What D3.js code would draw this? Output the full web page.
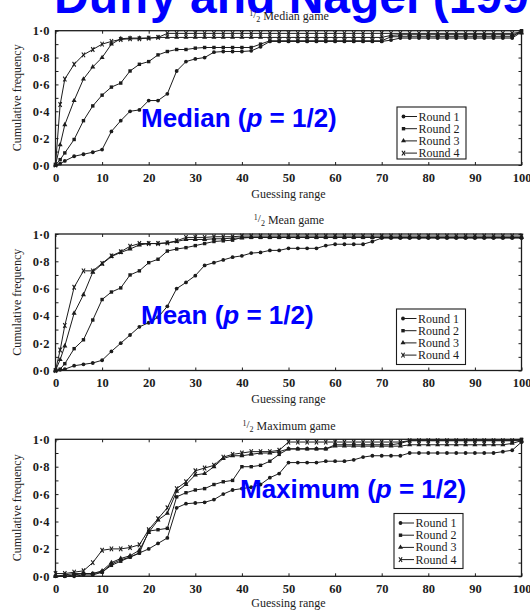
<!DOCTYPE html>
<html>
<head>
<meta charset="utf-8">
<script src="https://cdn.jsdelivr.net/npm/d3@7"></script>
<style>
  html, body { margin: 0; padding: 0; background: #fff; }
  svg { display: block; }
</style>
</head>
<body>
<div id="chart"></div>
<script>
// Guessing-range grid: fine start (step 1) then every 2 units
const xsFine = [0, 1, 2, 4, 6, 8, 10, 12, 14, 16, 18, 20, 22, 24, 26, 28, 30, 32, 34, 36, 38,
  40, 42, 44, 46, 48, 50, 52, 54, 56, 58, 60, 62, 64, 66, 68, 70, 72, 74, 76, 78,
  80, 82, 84, 86, 88, 90, 92, 94, 96, 98, 100];
const xsEven = [0, 2, 4, 6, 8, 10, 12, 14, 16, 18, 20, 22, 24, 26, 28, 30, 32, 34, 36, 38,
  40, 42, 44, 46, 48, 50, 52, 54, 56, 58, 60, 62, 64, 66, 68, 70, 72, 74, 76, 78,
  80, 82, 84, 86, 88, 90, 92, 94, 96, 98, 100];

const roundNames = ["Round 1", "Round 2", "Round 3", "Round 4"];
const yTickLabels = ["0·0", "0·2", "0·4", "0·6", "0·8", "1·0"];
const xTickValues = [0, 10, 20, 30, 40, 50, 60, 70, 80, 90, 100];

// 1/2 Median game — cumulative frequency (on xsFine)
const medianR1 = [0, 0.01, 0.03, 0.065, 0.08, 0.095,
  0.115, 0.25, 0.33, 0.40, 0.41,
  0.48, 0.48, 0.53, 0.70, 0.77,
  0.79, 0.80, 0.84, 0.845, 0.845,
  0.845, 0.85, 0.88, 0.92, 0.92,
  0.92, 0.92, 0.92, 0.92, 0.92,
  0.92, 0.92, 0.92, 0.92, 0.92,
  0.92, 0.93, 0.945, 0.945, 0.945,
  0.945, 0.945, 0.945, 0.945, 0.945,
  0.945, 0.945, 0.945, 0.945, 0.945,
  0.99];
const medianR2 = [0, 0.04, 0.09, 0.19, 0.33, 0.44,
  0.52, 0.58, 0.61, 0.70, 0.75,
  0.77, 0.82, 0.845, 0.86, 0.86,
  0.87, 0.875, 0.875, 0.875, 0.875,
  0.875, 0.875, 0.90, 0.925, 0.925,
  0.925, 0.925, 0.925, 0.925, 0.925,
  0.925, 0.925, 0.925, 0.925, 0.925,
  0.925, 0.955, 0.955, 0.955, 0.955,
  0.955, 0.955, 0.955, 0.955, 0.955,
  0.955, 0.955, 0.955, 0.955, 0.955,
  1.0];
const medianR3 = [0, 0.15, 0.30, 0.48, 0.64, 0.73,
  0.80, 0.90, 0.94, 0.945, 0.945,
  0.945, 0.95, 0.95, 0.95, 0.95,
  0.95, 0.95, 0.95, 0.95, 0.95,
  0.95, 0.95, 0.95, 0.95, 0.95,
  0.95, 0.95, 0.95, 0.95, 0.95,
  0.95, 0.95, 0.95, 0.95, 0.95,
  0.95, 0.965, 0.97, 0.97, 0.97,
  0.97, 0.97, 0.97, 0.97, 0.97,
  0.97, 0.97, 0.97, 0.97, 0.97,
  0.985];
const medianR4 = [0, 0.45, 0.64, 0.75, 0.82, 0.86,
  0.90, 0.92, 0.935, 0.94, 0.94,
  0.945, 0.95, 0.98, 0.98, 0.98,
  0.98, 0.98, 0.98, 0.98, 0.98,
  0.98, 0.98, 0.98, 0.98, 0.98,
  0.98, 0.98, 0.98, 0.98, 0.98,
  0.98, 0.98, 0.98, 0.98, 0.98,
  0.98, 0.98, 0.98, 0.98, 0.98,
  0.98, 0.98, 0.98, 0.98, 0.98,
  0.98, 0.98, 0.98, 0.98, 0.98,
  0.99];

// 1/2 Mean game — cumulative frequency (on xsFine)
const meanR1 = [0, 0.005, 0.01, 0.035, 0.045, 0.055,
  0.075, 0.14, 0.20, 0.26, 0.32,
  0.35, 0.39, 0.47, 0.60, 0.645,
  0.695, 0.77, 0.79, 0.81, 0.83,
  0.84, 0.86, 0.865, 0.88, 0.88,
  0.895, 0.895, 0.895, 0.895, 0.915,
  0.925, 0.925, 0.925, 0.925, 0.945,
  0.97, 0.97, 0.97, 0.97, 0.97,
  0.97, 0.97, 0.97, 0.97, 0.97,
  0.97, 0.97, 0.97, 0.97, 0.97,
  0.97];
const meanR2 = [0, 0.01, 0.05, 0.16, 0.225, 0.37,
  0.52, 0.575, 0.605, 0.70, 0.73,
  0.79, 0.815, 0.875, 0.89, 0.90,
  0.915, 0.93, 0.945, 0.95, 0.955,
  0.975, 0.975, 0.975, 0.975, 0.975,
  0.975, 0.975, 0.975, 0.975, 0.975,
  0.975, 0.975, 0.975, 0.975, 0.975,
  0.975, 0.975, 0.975, 0.975, 0.975,
  0.975, 0.975, 0.975, 0.975, 0.975,
  0.975, 0.975, 0.975, 0.975, 0.975,
  0.975];
const meanR3 = [0, 0.08, 0.18, 0.42, 0.555, 0.72,
  0.78, 0.835, 0.865, 0.89, 0.92,
  0.93, 0.93, 0.935, 0.945, 0.96,
  0.96, 0.96, 0.965, 0.965, 0.97,
  0.97, 0.975, 0.975, 0.975, 0.975,
  0.975, 0.975, 0.975, 0.975, 0.975,
  0.975, 0.975, 0.975, 0.975, 0.975,
  0.975, 0.975, 0.975, 0.975, 0.975,
  0.975, 0.975, 0.975, 0.975, 0.975,
  0.975, 0.975, 0.975, 0.975, 0.975,
  0.975];
const meanR4 = [0, 0.15, 0.33, 0.61, 0.73, 0.73,
  0.785, 0.84, 0.87, 0.91, 0.93,
  0.93, 0.93, 0.935, 0.95, 0.975,
  0.975, 0.975, 0.98, 0.98, 0.98,
  0.985, 0.985, 0.985, 0.985, 0.985,
  0.985, 0.985, 0.985, 0.985, 0.985,
  0.985, 0.985, 0.985, 0.985, 0.985,
  0.985, 0.985, 0.985, 0.985, 0.985,
  0.985, 0.985, 0.985, 0.985, 0.985,
  0.985, 0.985, 0.985, 0.985, 0.985,
  0.985];

// 1/2 Maximum game — cumulative frequency (on xsEven)
const maxR1 = [0, 0, 0, 0.01, 0.01,
  0.03, 0.09, 0.12, 0.14, 0.17,
  0.20, 0.24, 0.28, 0.50, 0.53,
  0.535, 0.54, 0.56, 0.60, 0.63,
  0.64, 0.65, 0.67, 0.72, 0.75,
  0.83, 0.83, 0.83, 0.83, 0.84,
  0.84, 0.84, 0.85, 0.87, 0.88,
  0.88, 0.88, 0.88, 0.90, 0.90,
  0.90, 0.90, 0.90, 0.90, 0.90,
  0.90, 0.90, 0.90, 0.91, 0.92,
  0.98];
const maxR2 = [0, 0, 0.01, 0.02, 0.02,
  0.03, 0.08, 0.11, 0.14, 0.17,
  0.33, 0.34, 0.35, 0.58, 0.61,
  0.63, 0.64, 0.67, 0.69, 0.70,
  0.80, 0.80, 0.81, 0.84, 0.89,
  0.93, 0.93, 0.93, 0.93, 0.93,
  0.96, 0.96, 0.96, 0.96, 0.96,
  0.96, 0.96, 0.97, 0.99, 0.99,
  0.99, 0.99, 0.99, 0.99, 0.99,
  0.99, 0.99, 0.99, 0.99, 0.99,
  1.0];
const maxR3 = [0, 0.01, 0.02, 0.02, 0.02,
  0.04, 0.10, 0.13, 0.15, 0.19,
  0.32, 0.41, 0.46, 0.62, 0.67,
  0.74, 0.75, 0.80, 0.86, 0.88,
  0.88, 0.89, 0.90, 0.90, 0.91,
  0.93, 0.93, 0.93, 0.93, 0.93,
  0.95, 0.95, 0.95, 0.95, 0.95,
  0.95, 0.95, 0.95, 0.96, 0.96,
  0.96, 0.96, 0.96, 0.96, 0.96,
  0.96, 0.96, 0.96, 0.96, 0.97,
  0.99];
const maxR4 = [0.02, 0.02, 0.03, 0.04, 0.10,
  0.19, 0.20, 0.20, 0.21, 0.23,
  0.34, 0.42, 0.50, 0.64, 0.69,
  0.77, 0.79, 0.81, 0.87, 0.89,
  0.90, 0.91, 0.91, 0.91, 0.92,
  0.98, 0.98, 0.98, 0.98, 0.98,
  0.98, 0.98, 0.98, 0.98, 0.98,
  0.98, 0.98, 0.98, 0.99, 0.99,
  0.99, 0.99, 0.99, 0.99, 0.99,
  0.99, 0.99, 0.99, 0.99, 0.99,
  0.99];

const W = 530, H = 610;
const serif = "'Liberation Serif', 'Times New Roman', serif";
const sans = "'Liberation Sans', Arial, sans-serif";
const ink = "#1c1c1c";

const svg = d3.select("#chart").append("svg")
  .attr("width", W).attr("height", H)
  .attr("viewBox", `0 0 ${W} ${H}`);

const x = d3.scaleLinear().domain([0, 100]).range([55.5, 521.5]);

const panels = [
  { game: "Median game", label: "Median", xs: xsFine,
    series: [medianR1, medianR2, medianR3, medianR4],
    top: 30.7, bottom: 165, titleY: 19.5, xlabY: 198,
    legend: { x: 397, y: 107, h: 52 }, tag: { x: 141, y: 127 } },
  { game: "Mean game", label: "Mean", xs: xsFine,
    series: [meanR1, meanR2, meanR3, meanR4],
    top: 234, bottom: 370.5, titleY: 224, xlabY: 403,
    legend: { x: 396.5, y: 309, h: 55.5 }, tag: { x: 141, y: 324 } },
  { game: "Maximum game", label: "Maximum", xs: xsEven,
    series: [maxR1, maxR2, maxR3, maxR4],
    top: 439.3, bottom: 576.3, titleY: 430, xlabY: 607,
    legend: { x: 394, y: 513.5, h: 55 }, tag: { x: 240, y: 498 } }
];

// Marker shapes per round: circle, square, triangle, cross
function drawMarker(g, k, cx, cy) {
  if (k === 0) {
    g.append("circle").attr("cx", cx).attr("cy", cy).attr("r", 1.9).attr("fill", ink);
  } else if (k === 1) {
    g.append("rect").attr("x", cx - 1.7).attr("y", cy - 1.7)
      .attr("width", 3.4).attr("height", 3.4).attr("fill", ink);
  } else if (k === 2) {
    g.append("path").attr("d", d3.symbol(d3.symbolTriangle, 11)())
      .attr("transform", `translate(${cx},${cy})`).attr("fill", ink);
  } else {
    g.append("path")
      .attr("d", `M${cx - 1.6},${cy - 2.4}L${cx + 1.6},${cy + 2.4}M${cx - 1.6},${cy + 2.4}L${cx + 1.6},${cy - 2.4}`)
      .attr("stroke", ink).attr("stroke-width", 1.1).attr("fill", "none");
  }
}

// Heading (drawn first so the panel titles sit over its clipped lower edge)
svg.append("text").attr("x", 54).attr("y", 13)
  .attr("font-family", sans).attr("font-weight", "bold").attr("font-size", 48)
  .attr("fill", "#0000ff").text("Duffy and Nagel (1997)");

panels.forEach(p => {
  const y = d3.scaleLinear().domain([0, 1]).range([p.bottom, p.top]);
  const g = svg.append("g");

  // Panel title: "1/2 <game>" with a stacked-fraction look
  const t = g.append("text").attr("x", 289).attr("y", p.titleY)
    .attr("text-anchor", "middle").attr("font-family", serif)
    .attr("font-size", 12).attr("fill", ink);
  t.append("tspan").attr("font-size", 8).attr("dy", -4).text("1");
  t.append("tspan").attr("font-size", 11).attr("dy", 2).text("/");
  t.append("tspan").attr("font-size", 8).attr("dy", 4).text("2");
  t.append("tspan").attr("dy", -2).text(" " + p.game);

  // Series lines
  const line = d3.line().x((d, i) => x(p.xs[i])).y(d => y(d));
  p.series.forEach((vals, k) => {
    g.append("path").datum(vals).attr("d", line)
      .attr("fill", "none").attr("stroke", ink).attr("stroke-width", 1);
  });
  // Series markers
  p.series.forEach((vals, k) => {
    const mg = g.append("g");
    vals.forEach((v, i) => drawMarker(mg, k, x(p.xs[i]), y(v)));
  });

  // Frame
  g.append("rect").attr("x", x(0)).attr("y", p.top)
    .attr("width", x(100) - x(0)).attr("height", p.bottom - p.top)
    .attr("fill", "none").attr("stroke", ink).attr("stroke-width", 1.3);

  // Inward ticks on all four sides
  const bottomAxis = d3.axisBottom(x).tickValues(xTickValues).tickSize(-3).tickFormat("");
  const topAxis = d3.axisTop(x).tickValues(xTickValues).tickSize(-3).tickFormat("");
  const yMinor = d3.range(0, 11).map(i => i / 10);
  const leftAxis = d3.axisLeft(y).tickValues(yMinor).tickSize(-3).tickFormat("");
  const rightAxis = d3.axisRight(y).tickValues(yMinor).tickSize(-3).tickFormat("");
  [[bottomAxis, `translate(0,${p.bottom})`], [topAxis, `translate(0,${p.top})`],
   [leftAxis, `translate(${x(0)},0)`], [rightAxis, `translate(${x(100)},0)`]].forEach(([ax, tr]) => {
    const a = g.append("g").attr("transform", tr).call(ax);
    a.select(".domain").remove();
    a.selectAll("line").attr("stroke", ink).attr("stroke-width", 1);
  });

  // Tick labels
  const xl = g.append("g").attr("transform", `translate(0,${p.bottom})`)
    .call(d3.axisBottom(x).tickValues(xTickValues).tickSize(0).tickPadding(8).tickFormat(d3.format("d")));
  xl.select(".domain").remove();
  xl.selectAll("text").attr("font-family", serif).attr("font-size", 12.5)
    .attr("fill", ink).attr("font-weight", "bold").attr("dy", "0.71em");

  const yl = g.append("g").attr("transform", `translate(${x(0)},0)`)
    .call(d3.axisLeft(y).tickValues([0, 0.2, 0.4, 0.6, 0.8, 1])
      .tickSize(0).tickPadding(6).tickFormat((d, i) => yTickLabels[i]));
  yl.select(".domain").remove();
  yl.selectAll("text").attr("font-family", serif).attr("font-size", 12.5)
    .attr("fill", ink).attr("font-weight", "bold");

  // Axis titles
  g.append("text").attr("x", (x(0) + x(100)) / 2).attr("y", p.xlabY)
    .attr("text-anchor", "middle").attr("font-family", serif)
    .attr("font-size", 12).attr("fill", ink).text("Guessing range");
  g.append("text")
    .attr("transform", `translate(21,${(p.top + p.bottom) / 2}) rotate(-90)`)
    .attr("text-anchor", "middle").attr("font-family", serif)
    .attr("font-size", 12).attr("fill", ink).text("Cumulative frequency");

  // Legend
  const L = p.legend;
  const lg = g.append("g");
  lg.append("rect").attr("x", L.x).attr("y", L.y).attr("width", 69).attr("height", L.h)
    .attr("fill", "#fff").attr("stroke", ink).attr("stroke-width", 1.1);
  roundNames.forEach((name, k) => {
    const by = L.y + 13.5 + k * 12.2;
    lg.append("line").attr("x1", L.x + 6.5).attr("x2", L.x + 20)
      .attr("y1", by - 4).attr("y2", by - 4).attr("stroke", ink).attr("stroke-width", 1);
    drawMarker(lg, k, L.x + 6.5, by - 4);
    lg.append("text").attr("x", L.x + 21.5).attr("y", by)
      .attr("font-family", serif).attr("font-size", 12).attr("fill", ink).text(name);
  });

  // Blue game tag
  const tag = svg.append("text").attr("x", p.tag.x).attr("y", p.tag.y)
    .attr("font-family", sans).attr("font-weight", "bold").attr("font-size", 26)
    .attr("fill", "#0000ff");
  tag.append("tspan").text(p.label + " (");
  tag.append("tspan").attr("font-style", "italic").text("p");
  tag.append("tspan").text(" = 1/2)");
});
</script>
</body>
</html>
